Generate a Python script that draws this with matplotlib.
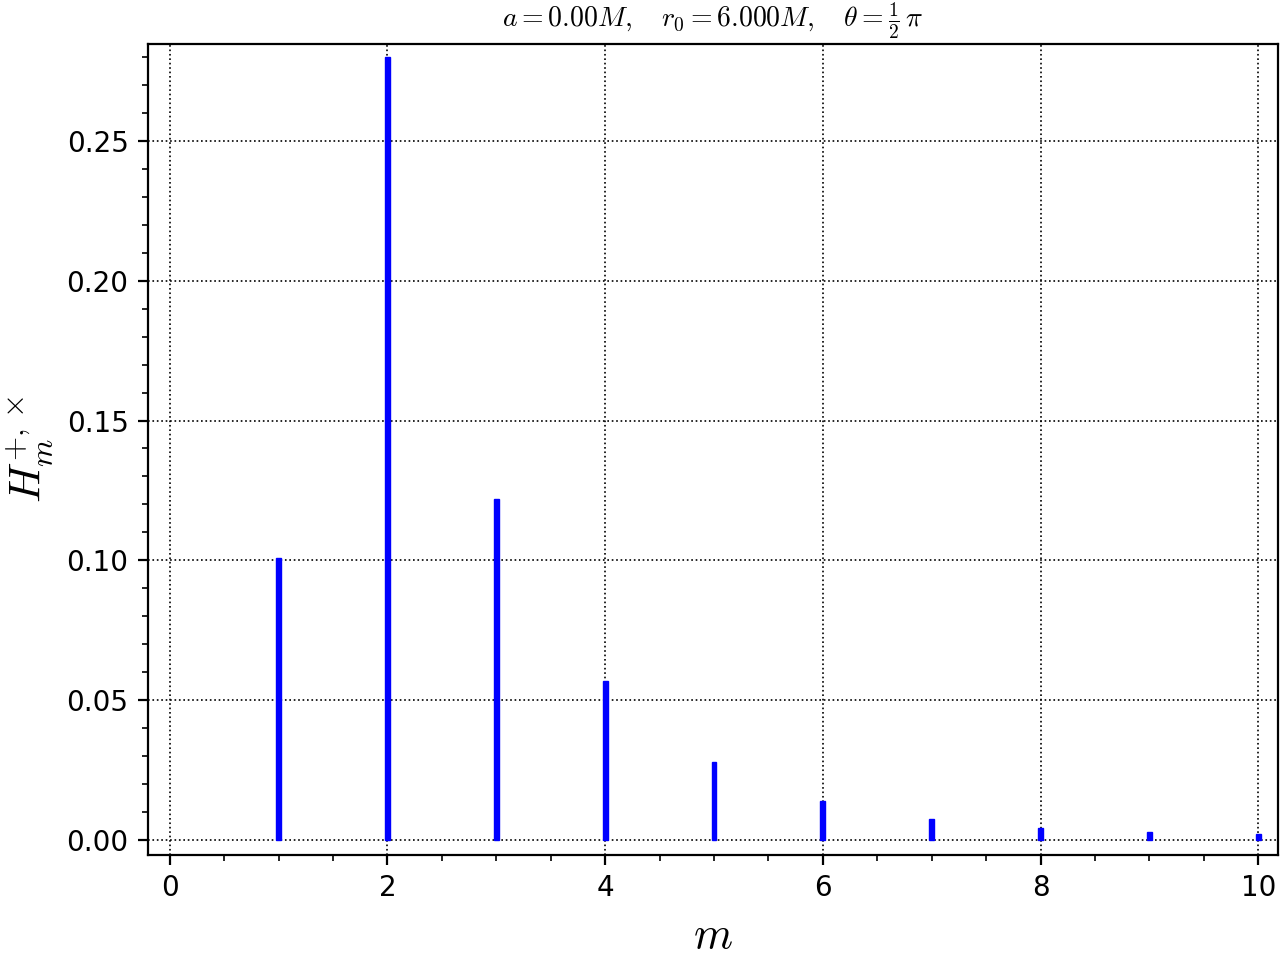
import matplotlib
matplotlib.use("Agg")
import matplotlib.pyplot as plt

# harmonic amplitudes per azimuthal number m
m_vals = [1, 2, 3, 4, 5, 6, 7, 8, 9, 10]
h_vals = [0.1009, 0.2800, 0.1220, 0.0569, 0.0279, 0.0139, 0.0075, 0.0043, 0.0029, 0.0021]

plt.rcParams['mathtext.fontset'] = 'cm'

fig, ax = plt.subplots(figsize=(6.4, 4.8), dpi=200)

ax.bar(m_vals, h_vals, width=0.045, color='blue', edgecolor='blue', linewidth=0.5, zorder=3)

ax.set_xlim(-0.2, 10.18)
ax.set_ylim(-0.0054, 0.2847)
ax.minorticks_on()
ax.grid(True, which='major', color='black', linestyle=':', linewidth=0.6)

ax.set_xlabel(r'$m$', fontsize=16)
ax.set_ylabel(r'$H_m^{+,\times}$', fontsize=16)
ax.set_title(r'$a=0.00M,\quad r_0=6.000M,\quad \theta=\frac{1}{2}\,\pi$', fontsize=10)

fig.subplots_adjust(left=0.1156, right=0.9984, top=0.9542, bottom=0.1094)
fig.savefig("out.png", dpi=200)
